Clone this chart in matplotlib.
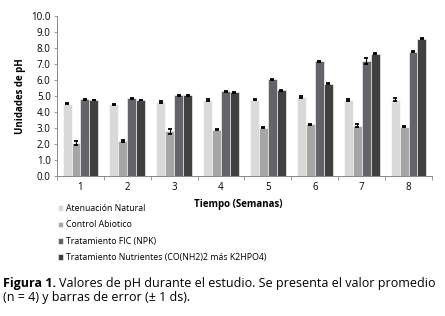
import matplotlib
matplotlib.use("Agg")
import matplotlib.pyplot as plt
import numpy as np

plt.rcParams["font.family"] = ["Open Sans", "DejaVu Sans"]

# datos
semanas = ["1", "2", "3", "4", "5", "6", "7", "8"]
series = ["Atenuación Natural", "Control Abiotico", "Tratamiento FIC (NPK)",
          "Tratamiento Nutrientes (CO(NH2)2 más K2HPO4)"]
atenuacion = [4.52, 4.47, 4.63, 4.76, 4.78, 4.93, 4.76, 4.78]
control = [2.05, 2.2, 2.8, 2.9, 3.03, 3.22, 3.14, 3.08]
fic = [4.8, 4.85, 5.05, 5.3, 6.06, 7.17, 7.18, 7.78]
nutrientes = [4.75, 4.76, 5.05, 5.22, 5.36, 5.77, 7.63, 8.57]
err_atenuacion = [0.02, 0.04, 0.08, 0.08, 0.06, 0.04, 0.07, 0.1]
err_control = [0.14, 0.06, 0.16, 0.04, 0.04, 0.04, 0.1, 0.04]
err_fic = [0.04, 0.04, 0.03, 0.03, 0.03, 0.04, 0.2, 0.03]
err_nutrientes = [0.02, 0.02, 0.03, 0.03, 0.03, 0.03, 0.03, 0.03]

colores = ["#d9d9d9", "#a6a6a6", "#626469", "#404040"]
valores = [atenuacion, control, fic, nutrientes]
errores = [err_atenuacion, err_control, err_fic, err_nutrientes]

fig = plt.figure(figsize=(4.45, 3.16), dpi=100)
ax = fig.add_axes([57 / 445, 1 - 176 / 316, 375 / 445, 160 / 316])

x = np.arange(len(semanas))
ancho = 0.19
for i, (v, e, c, nombre) in enumerate(zip(valores, errores, colores, series)):
    pos = x + (i - 1.5) * ancho
    ax.bar(pos, v, ancho, color=c, edgecolor="white", linewidth=0.4, label=nombre)
    ax.errorbar(pos, v, yerr=e, fmt="none", ecolor="black", elinewidth=0.8,
                capsize=1.5, capthick=1.3)

ax.set_xlim(-0.5, len(semanas) - 0.5)
ax.set_ylim(0, 10)
ax.set_yticks(np.arange(0, 10.1, 1))
ax.set_yticklabels([f"{t:.1f}" for t in np.arange(0, 10.1, 1)], fontsize=7)
ax.set_xticks(x)
ax.set_xticklabels(semanas, fontsize=7)
ax.set_xticks(np.arange(-0.5, len(semanas)), minor=True)
ax.tick_params(axis="x", which="major", length=0, pad=4)
ax.tick_params(axis="x", which="minor", length=3, color="#888888", width=0.6)
ax.tick_params(axis="y", length=2.5, color="#888888", width=0.6, pad=2)
for s in ["top", "right"]:
    ax.spines[s].set_visible(False)
for s in ["left", "bottom"]:
    ax.spines[s].set_color("#888888")
    ax.spines[s].set_linewidth(0.7)

ax.set_ylabel("Unidades de pH", fontsize=7, fontweight="bold", labelpad=4)
fig.text(238 / 445, 1 - 205 / 316, "Tiempo (Semanas)", fontsize=7,
         fontweight="bold", ha="center", va="center")

ax.legend(loc="upper left", bbox_to_anchor=(58 / 445, 1 - 204 / 316),
          bbox_transform=fig.transFigure, frameon=False, fontsize=6.3,
          handlelength=0.6, handleheight=0.6, handletextpad=0.3,
          labelspacing=0.85, borderaxespad=0, borderpad=0)

# pie de figura: parte en negrita y resto a continuación
t1 = fig.text(3 / 445, 1 - 283 / 316, "Figura 1.", fontsize=9, fontweight="bold",
              ha="left", va="center")
fig.canvas.draw()
bb = t1.get_window_extent()
fig.text(bb.x1 / fig.bbox.width + 3 / 445, 1 - 283 / 316,
         "Valores de pH durante el estudio. Se presenta el valor promedio",
         fontsize=9, ha="left", va="center")
fig.text(3 / 445, 1 - 298 / 316, "(n = 4) y barras de error (± 1 ds).",
         fontsize=9, ha="left", va="center")

fig.savefig("out.png", dpi=100)
